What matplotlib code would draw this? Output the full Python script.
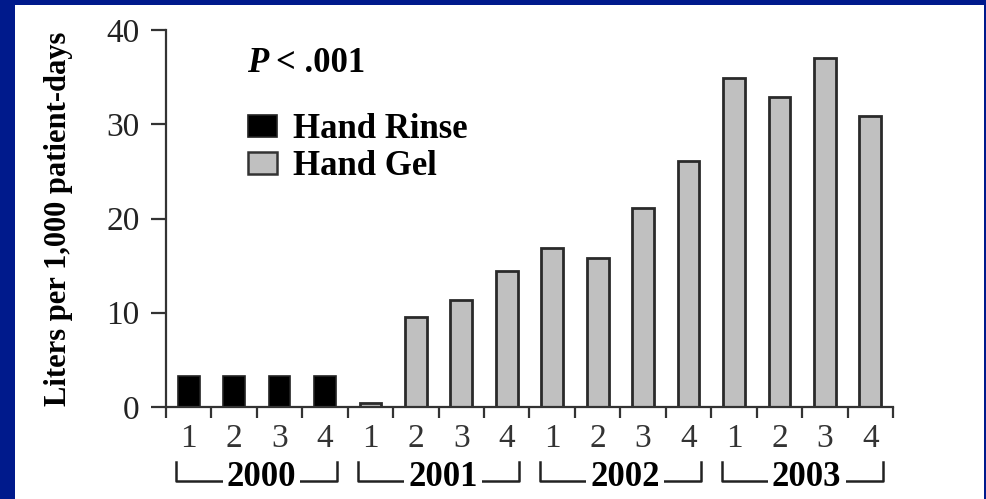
import matplotlib
matplotlib.use('Agg')
import matplotlib.pyplot as plt
from matplotlib.patches import Rectangle, Patch

# quarterly usage, liters per 1,000 patient-days
quarters = ['1', '2', '3', '4'] * 4
years = ['2000', '2001', '2002', '2003']
rinse = [3.3, 3.3, 3.3, 3.3] + [0] * 12
gel = [0, 0, 0, 0,
       0.4, 9.5, 11.4, 14.4,
       16.9, 15.8, 21.1, 26.1,
       34.9, 32.9, 37.0, 30.9]

plt.rcParams['font.family'] = ['Liberation Serif', 'DejaVu Serif']

fig = plt.figure(figsize=(9.87, 4.99), dpi=100, facecolor='#001a8c')
# white slide panel
fig.patches.append(Rectangle((15 / 987, 0), 969 / 987, 494 / 499,
                             transform=fig.transFigure, facecolor='white',
                             edgecolor='none', zorder=-10))

ax = fig.add_axes([166 / 987, 92 / 499, 727 / 987, 377 / 499])
ax.set_facecolor('none')

x = list(range(len(quarters)))
w = 0.48
ax.bar(x[:4], rinse[:4], width=w, color='black', edgecolor='#222222', linewidth=1.2)
ax.bar(x[4:], gel[4:], width=w, color='#c0c0c0', edgecolor='#2a2a2a', linewidth=2)

ax.set_xlim(-0.5, 15.5)
ax.set_ylim(0, 40)
ax.set_yticks([0, 10, 20, 30, 40])
ax.set_xticks(x)
ax.set_xticklabels(quarters)
ax.set_xticks([i - 0.5 for i in range(17)], minor=True)

for s in ['top', 'right']:
    ax.spines[s].set_visible(False)
for s in ['left', 'bottom']:
    ax.spines[s].set_linewidth(1.6)
    ax.spines[s].set_color('#333333')

ax.tick_params(axis='y', direction='out', length=11, width=1.6, color='#333333',
               labelsize=24, pad=8, labelcolor='#222222')
ax.tick_params(axis='x', which='major', length=0, labelsize=24, pad=12,
               labelcolor='#333333')
ax.tick_params(axis='x', which='minor', direction='out', length=8, width=1.6,
               color='#333333')

ax.set_ylabel('Liters per 1,000 patient-days', fontsize=22, fontweight='bold')
ax.yaxis.set_label_coords(-0.128, 0.5)

# year brackets under the quarter labels
tr = ax.get_xaxis_transform()
for k, yr in enumerate(years):
    x0 = 4 * k - 0.27
    x1 = 4 * k + 3.27
    ax.plot([x0, x0, x1, x1], [-0.146, -0.196, -0.196, -0.146], transform=tr,
            color='#222222', linewidth=1.8, clip_on=False)
    ax.text((x0 + x1) / 2 + 0.1, -0.186, yr, transform=tr, ha='center', va='center',
            fontsize=25, fontweight='bold',
            bbox=dict(facecolor='white', edgecolor='none', pad=3), zorder=5)

# p-value note
ax.text(0.112, 0.888, 'P', transform=ax.transAxes, fontsize=25, fontweight='bold',
        style='italic', va='baseline')
ax.text(0.151, 0.888, '< .001', transform=ax.transAxes, fontsize=25,
        fontweight='bold', va='baseline')

handles = [Patch(facecolor='black', edgecolor='#222222', linewidth=1.2),
           Patch(facecolor='#c0c0c0', edgecolor='#333333', linewidth=1.8)]
ax.legend(handles, ['Hand Rinse', 'Hand Gel'], loc='upper left',
          bbox_to_anchor=(248 / 987, 1 - 113 / 499), bbox_transform=fig.transFigure,
          frameon=False, borderpad=0, borderaxespad=0, handlelength=0.84,
          handleheight=0.6, handletextpad=0.45, labelspacing=0.12,
          prop={'size': 25, 'weight': 'bold'})

fig.savefig('out.png', dpi=100, facecolor=fig.get_facecolor())
